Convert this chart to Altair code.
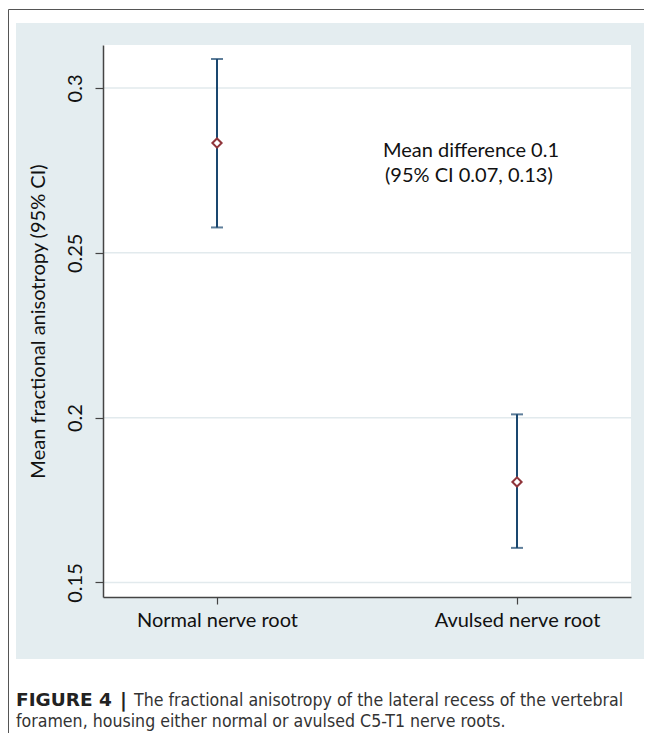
import altair as alt
import pandas as pd

groups = ["Normal nerve root", "Avulsed nerve root"]
group_pos = [1, 2]
means = [0.2833, 0.1805]
lower = [0.2577, 0.1605]
upper = [0.3088, 0.2010]
y_ticks = [0.15, 0.2, 0.25, 0.3]
note_lines = ["Mean difference 0.1", "(95% CI 0.07, 0.13)"]
caption_bold = "FIGURE 4"
caption_sep = "|"
caption_lines = [
    "The fractional anisotropy of the lateral recess of the vertebral",
    "foramen, housing either normal or avulsed C5-T1 nerve roots.",
]

W, H = 528, 552
PANEL = "#e4edf0"
NAVY = "#1a476f"
MAROON = "#90353b"
FONT = "Lato"
CAPFONT = "DejaVu Sans Condensed, Roboto, sans-serif"
CAPSIZE = 17.6

df = pd.DataFrame({"g": groups, "x": group_pos, "m": means, "lo": lower, "hi": upper})
grid_df = pd.DataFrame({"v": y_ticks})
note_df = pd.DataFrame({"t": note_lines, "x": [1.553, 1.56], "y": [0.2792, 0.2716]})

xs = alt.Scale(domain=[0.62, 2.38], nice=False, zero=False)
ys = alt.Scale(domain=[0.1456, 0.31304], nice=False, zero=False)

label_expr = "datum.value == 1 ? '" + groups[0] + "' : '" + groups[1] + "'"

one = pd.DataFrame({"a": [0]})

frame = alt.Chart(one).mark_rect(fill=None, stroke="#555555", strokeWidth=1, clip=False).encode(
    x=alt.value(-94.5), x2=alt.value(700), y=alt.value(-35.5), y2=alt.value(800)
)
panel = alt.Chart(one).mark_rect(fill=PANEL, clip=False).encode(
    x=alt.value(-87), x2=alt.value(560), y=alt.value(-22), y2=alt.value(614)
)
plotbg = alt.Chart(one).mark_rect(fill="white").encode(
    x=alt.value(0), x2=alt.value(W), y=alt.value(0), y2=alt.value(H)
)
grid = alt.Chart(grid_df).mark_rule(color="#e2eaed", strokeWidth=1.5).encode(
    y=alt.Y("v:Q", scale=ys), x=alt.value(0), x2=alt.value(W)
)

bars = alt.Chart(df).mark_rule(color=NAVY, strokeWidth=2).encode(
    x=alt.X("x:Q", scale=xs,
            axis=alt.Axis(values=group_pos, labelExpr=label_expr, title=None, grid=False, zindex=2,
                          domainColor="#444", domainWidth=1.5, tickColor="#444", tickSize=7,
                          tickWidth=1.2, labelFontSize=20, labelFont=FONT, labelColor="#111",
                          labelPadding=6)),
    y=alt.Y("lo:Q", scale=ys,
            axis=alt.Axis(values=y_ticks, format=".2~f",
                          title="Mean fractional anisotropy (95% CI)", grid=False,
                          zindex=2,
                          labelAngle=-90, labelAlign="center", labelBaseline="bottom",
                          domainColor="#444", domainWidth=1.5, tickColor="#444", tickSize=8,
                          tickWidth=1.2, labelFontSize=20, labelFont=FONT, labelColor="#111",
                          labelPadding=10, titleFontSize=20, titleFont=FONT, titleFontWeight="normal",
                          titleColor="#111", titlePadding=17)),
    y2="hi:Q",
)
cap_lo = alt.Chart(df).mark_tick(color=NAVY, size=12, thickness=2, orient="horizontal").encode(
    x=alt.X("x:Q", scale=xs), y=alt.Y("lo:Q", scale=ys)
)
cap_hi = alt.Chart(df).mark_tick(color=NAVY, size=12, thickness=2, orient="horizontal").encode(
    x=alt.X("x:Q", scale=xs), y=alt.Y("hi:Q", scale=ys)
)
pts = alt.Chart(df).mark_point(shape="diamond", filled=False, fill="white", fillOpacity=1,
                               stroke=MAROON, strokeWidth=2, size=85, opacity=1).encode(
    x=alt.X("x:Q", scale=xs), y=alt.Y("m:Q", scale=ys)
)
note = alt.Chart(note_df).mark_text(align="left", baseline="alphabetic", fontSize=20,
                                    font=FONT, color="#111").encode(
    x=alt.X("x:Q", scale=xs), y=alt.Y("y:Q", scale=ys), text="t:N"
)

cap_b = alt.Chart(one).mark_text(align="left", baseline="alphabetic", fontSize=18.5,
                                 font="DejaVu Sans", fontWeight="bold",
                                 color="#222", clip=False, text=caption_bold).encode(
    x=alt.value(-87), y=alt.value(661)
)
cap_sep = alt.Chart(one).mark_text(align="left", baseline="alphabetic", fontSize=19,
                                   font="DejaVu Sans", fontWeight="bold",
                                   color="#222", clip=False, text=caption_sep).encode(
    x=alt.value(17), y=alt.value(662)
)
cap_t1 = alt.Chart(pd.DataFrame({"t": [caption_lines[0]]})).mark_text(
    align="left", baseline="alphabetic", fontSize=CAPSIZE, font=CAPFONT,
    color="#333", clip=False).encode(x=alt.value(31), y=alt.value(661), text="t:N")
cap_t2 = alt.Chart(pd.DataFrame({"t": [caption_lines[1]]})).mark_text(
    align="left", baseline="alphabetic", fontSize=CAPSIZE, font=CAPFONT,
    color="#333", clip=False).encode(x=alt.value(-87), y=alt.value(682), text="t:N")

chart = alt.layer(frame, panel, plotbg, grid, bars, cap_lo, cap_hi, pts, note,
                  cap_b, cap_sep, cap_t1, cap_t2).properties(
    width=W, height=H,
    autosize=alt.AutoSizeParams(type="none"),
    padding={"left": 95, "top": 37, "right": 13, "bottom": 136},
    background="white",
).configure_view(stroke=None)

chart.save("out.html", embed_options={"renderer": "svg", "actions": False})
